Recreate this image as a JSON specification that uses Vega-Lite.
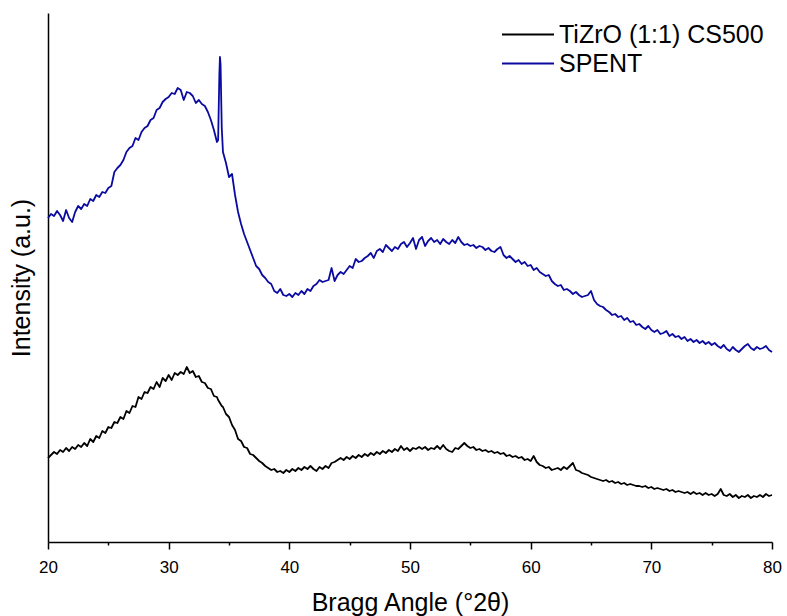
{
  "$schema": "https://vega.github.io/schema/vega-lite/v6.json",
  "width": 724,
  "height": 529,
  "autosize": {"type": "none"},
  "padding": {"left": 48, "top": 13, "right": 15, "bottom": 74},
  "background": "white",
  "config": {
    "view": {"stroke": null},
    "font": "Liberation Sans",
    "axis": {"domainColor": "black", "domainWidth": 1.5, "tickColor": "black", "tickWidth": 1.5, "grid": false, "labelColor": "black", "titleColor": "black", "titleFontWeight": "normal", "titleFont": "Liberation Sans", "labelFont": "Liberation Sans"}
  },
  "data": {"values": [
{"angle":20.00,"TiZrO (1:1) CS500":84,"SPENT":324},
{"angle":20.25,"TiZrO (1:1) CS500":87,"SPENT":328},
{"angle":20.50,"TiZrO (1:1) CS500":90,"SPENT":326},
{"angle":20.75,"TiZrO (1:1) CS500":88,"SPENT":331},
{"angle":21.00,"TiZrO (1:1) CS500":92,"SPENT":327},
{"angle":21.25,"TiZrO (1:1) CS500":90,"SPENT":321},
{"angle":21.50,"TiZrO (1:1) CS500":94,"SPENT":332},
{"angle":21.75,"TiZrO (1:1) CS500":91,"SPENT":324},
{"angle":22.00,"TiZrO (1:1) CS500":95,"SPENT":320},
{"angle":22.25,"TiZrO (1:1) CS500":93,"SPENT":330},
{"angle":22.50,"TiZrO (1:1) CS500":97,"SPENT":336},
{"angle":22.75,"TiZrO (1:1) CS500":95,"SPENT":333},
{"angle":23.00,"TiZrO (1:1) CS500":99,"SPENT":338},
{"angle":23.25,"TiZrO (1:1) CS500":96,"SPENT":336},
{"angle":23.50,"TiZrO (1:1) CS500":103,"SPENT":343},
{"angle":23.75,"TiZrO (1:1) CS500":100,"SPENT":341},
{"angle":24.00,"TiZrO (1:1) CS500":106,"SPENT":347},
{"angle":24.25,"TiZrO (1:1) CS500":104,"SPENT":345},
{"angle":24.50,"TiZrO (1:1) CS500":111,"SPENT":350},
{"angle":24.75,"TiZrO (1:1) CS500":109,"SPENT":349},
{"angle":25.00,"TiZrO (1:1) CS500":115,"SPENT":354},
{"angle":25.25,"TiZrO (1:1) CS500":114,"SPENT":356},
{"angle":25.50,"TiZrO (1:1) CS500":120,"SPENT":370},
{"angle":25.75,"TiZrO (1:1) CS500":119,"SPENT":374},
{"angle":26.00,"TiZrO (1:1) CS500":125,"SPENT":377},
{"angle":26.25,"TiZrO (1:1) CS500":123,"SPENT":382},
{"angle":26.50,"TiZrO (1:1) CS500":131,"SPENT":390},
{"angle":26.75,"TiZrO (1:1) CS500":129,"SPENT":394},
{"angle":27.00,"TiZrO (1:1) CS500":136,"SPENT":396},
{"angle":27.25,"TiZrO (1:1) CS500":135,"SPENT":404},
{"angle":27.50,"TiZrO (1:1) CS500":145,"SPENT":402},
{"angle":27.75,"TiZrO (1:1) CS500":143,"SPENT":410},
{"angle":28.00,"TiZrO (1:1) CS500":150,"SPENT":414},
{"angle":28.25,"TiZrO (1:1) CS500":149,"SPENT":416},
{"angle":28.50,"TiZrO (1:1) CS500":155,"SPENT":422},
{"angle":28.75,"TiZrO (1:1) CS500":153,"SPENT":424},
{"angle":29.00,"TiZrO (1:1) CS500":160,"SPENT":432},
{"angle":29.25,"TiZrO (1:1) CS500":155,"SPENT":434},
{"angle":29.50,"TiZrO (1:1) CS500":164,"SPENT":440},
{"angle":29.75,"TiZrO (1:1) CS500":161,"SPENT":443},
{"angle":30.00,"TiZrO (1:1) CS500":167,"SPENT":445},
{"angle":30.25,"TiZrO (1:1) CS500":162,"SPENT":449},
{"angle":30.50,"TiZrO (1:1) CS500":169,"SPENT":448},
{"angle":30.75,"TiZrO (1:1) CS500":167,"SPENT":454},
{"angle":31.00,"TiZrO (1:1) CS500":170,"SPENT":452},
{"angle":31.25,"TiZrO (1:1) CS500":168,"SPENT":442},
{"angle":31.50,"TiZrO (1:1) CS500":175,"SPENT":450},
{"angle":31.75,"TiZrO (1:1) CS500":169,"SPENT":449},
{"angle":32.00,"TiZrO (1:1) CS500":171,"SPENT":446},
{"angle":32.25,"TiZrO (1:1) CS500":165,"SPENT":439},
{"angle":32.50,"TiZrO (1:1) CS500":166,"SPENT":442},
{"angle":32.75,"TiZrO (1:1) CS500":160,"SPENT":438},
{"angle":33.00,"TiZrO (1:1) CS500":159,"SPENT":436},
{"angle":33.25,"TiZrO (1:1) CS500":154,"SPENT":430},
{"angle":33.50,"TiZrO (1:1) CS500":153,"SPENT":422},
{"angle":33.75,"TiZrO (1:1) CS500":146,"SPENT":412},
{"angle":34.00,"TiZrO (1:1) CS500":145,"SPENT":400},
{"angle":34.10,"TiZrO (1:1) CS500":142,"SPENT":402},
{"angle":34.20,"TiZrO (1:1) CS500":140,"SPENT":467},
{"angle":34.25,"TiZrO (1:1) CS500":139,"SPENT":485},
{"angle":34.30,"TiZrO (1:1) CS500":138,"SPENT":478},
{"angle":34.40,"TiZrO (1:1) CS500":136,"SPENT":414},
{"angle":34.50,"TiZrO (1:1) CS500":135,"SPENT":390},
{"angle":34.75,"TiZrO (1:1) CS500":128,"SPENT":379},
{"angle":35.00,"TiZrO (1:1) CS500":125,"SPENT":365},
{"angle":35.25,"TiZrO (1:1) CS500":117,"SPENT":368},
{"angle":35.50,"TiZrO (1:1) CS500":112,"SPENT":347},
{"angle":35.75,"TiZrO (1:1) CS500":103,"SPENT":330},
{"angle":36.00,"TiZrO (1:1) CS500":101,"SPENT":318},
{"angle":36.25,"TiZrO (1:1) CS500":95,"SPENT":308},
{"angle":36.50,"TiZrO (1:1) CS500":94,"SPENT":300},
{"angle":36.75,"TiZrO (1:1) CS500":88,"SPENT":292},
{"angle":37.00,"TiZrO (1:1) CS500":87,"SPENT":284},
{"angle":37.25,"TiZrO (1:1) CS500":84,"SPENT":276},
{"angle":37.50,"TiZrO (1:1) CS500":81,"SPENT":273},
{"angle":37.75,"TiZrO (1:1) CS500":79,"SPENT":267},
{"angle":38.00,"TiZrO (1:1) CS500":76,"SPENT":264},
{"angle":38.25,"TiZrO (1:1) CS500":74,"SPENT":260},
{"angle":38.50,"TiZrO (1:1) CS500":72,"SPENT":258},
{"angle":38.75,"TiZrO (1:1) CS500":73,"SPENT":251},
{"angle":39.00,"TiZrO (1:1) CS500":70,"SPENT":249},
{"angle":39.25,"TiZrO (1:1) CS500":71,"SPENT":253},
{"angle":39.50,"TiZrO (1:1) CS500":69,"SPENT":247},
{"angle":39.75,"TiZrO (1:1) CS500":72,"SPENT":246},
{"angle":40.00,"TiZrO (1:1) CS500":70,"SPENT":248},
{"angle":40.25,"TiZrO (1:1) CS500":73,"SPENT":245},
{"angle":40.50,"TiZrO (1:1) CS500":71,"SPENT":249},
{"angle":40.75,"TiZrO (1:1) CS500":74,"SPENT":247},
{"angle":41.00,"TiZrO (1:1) CS500":72,"SPENT":251},
{"angle":41.25,"TiZrO (1:1) CS500":75,"SPENT":248},
{"angle":41.50,"TiZrO (1:1) CS500":73,"SPENT":253},
{"angle":41.75,"TiZrO (1:1) CS500":76,"SPENT":251},
{"angle":42.00,"TiZrO (1:1) CS500":73,"SPENT":256},
{"angle":42.25,"TiZrO (1:1) CS500":71,"SPENT":258},
{"angle":42.50,"TiZrO (1:1) CS500":75,"SPENT":262},
{"angle":42.75,"TiZrO (1:1) CS500":73,"SPENT":260},
{"angle":43.00,"TiZrO (1:1) CS500":76,"SPENT":261},
{"angle":43.25,"TiZrO (1:1) CS500":74,"SPENT":262},
{"angle":43.50,"TiZrO (1:1) CS500":79,"SPENT":274},
{"angle":43.75,"TiZrO (1:1) CS500":80,"SPENT":261},
{"angle":44.00,"TiZrO (1:1) CS500":82,"SPENT":267},
{"angle":44.25,"TiZrO (1:1) CS500":84,"SPENT":270},
{"angle":44.50,"TiZrO (1:1) CS500":82,"SPENT":268},
{"angle":44.75,"TiZrO (1:1) CS500":85,"SPENT":272},
{"angle":45.00,"TiZrO (1:1) CS500":83,"SPENT":276},
{"angle":45.25,"TiZrO (1:1) CS500":86,"SPENT":274},
{"angle":45.50,"TiZrO (1:1) CS500":84,"SPENT":283},
{"angle":45.75,"TiZrO (1:1) CS500":87,"SPENT":280},
{"angle":46.00,"TiZrO (1:1) CS500":85,"SPENT":281},
{"angle":46.25,"TiZrO (1:1) CS500":88,"SPENT":284},
{"angle":46.50,"TiZrO (1:1) CS500":86,"SPENT":286},
{"angle":46.75,"TiZrO (1:1) CS500":89,"SPENT":289},
{"angle":47.00,"TiZrO (1:1) CS500":87,"SPENT":284},
{"angle":47.25,"TiZrO (1:1) CS500":90,"SPENT":291},
{"angle":47.50,"TiZrO (1:1) CS500":88,"SPENT":293},
{"angle":47.75,"TiZrO (1:1) CS500":91,"SPENT":290},
{"angle":48.00,"TiZrO (1:1) CS500":89,"SPENT":297},
{"angle":48.25,"TiZrO (1:1) CS500":92,"SPENT":294},
{"angle":48.50,"TiZrO (1:1) CS500":90,"SPENT":291},
{"angle":48.75,"TiZrO (1:1) CS500":93,"SPENT":295},
{"angle":49.00,"TiZrO (1:1) CS500":91,"SPENT":293},
{"angle":49.25,"TiZrO (1:1) CS500":96,"SPENT":298},
{"angle":49.50,"TiZrO (1:1) CS500":92,"SPENT":300},
{"angle":49.75,"TiZrO (1:1) CS500":94,"SPENT":295},
{"angle":50.00,"TiZrO (1:1) CS500":91,"SPENT":299},
{"angle":50.25,"TiZrO (1:1) CS500":94,"SPENT":304},
{"angle":50.50,"TiZrO (1:1) CS500":93,"SPENT":293},
{"angle":50.75,"TiZrO (1:1) CS500":95,"SPENT":302},
{"angle":51.00,"TiZrO (1:1) CS500":93,"SPENT":305},
{"angle":51.25,"TiZrO (1:1) CS500":95,"SPENT":296},
{"angle":51.50,"TiZrO (1:1) CS500":92,"SPENT":301},
{"angle":51.75,"TiZrO (1:1) CS500":94,"SPENT":304},
{"angle":52.00,"TiZrO (1:1) CS500":93,"SPENT":300},
{"angle":52.25,"TiZrO (1:1) CS500":96,"SPENT":302},
{"angle":52.50,"TiZrO (1:1) CS500":93,"SPENT":298},
{"angle":52.75,"TiZrO (1:1) CS500":97,"SPENT":303},
{"angle":53.00,"TiZrO (1:1) CS500":93,"SPENT":300},
{"angle":53.25,"TiZrO (1:1) CS500":91,"SPENT":298},
{"angle":53.50,"TiZrO (1:1) CS500":90,"SPENT":302},
{"angle":53.75,"TiZrO (1:1) CS500":94,"SPENT":299},
{"angle":54.00,"TiZrO (1:1) CS500":93,"SPENT":305},
{"angle":54.25,"TiZrO (1:1) CS500":96,"SPENT":300},
{"angle":54.50,"TiZrO (1:1) CS500":99,"SPENT":297},
{"angle":54.75,"TiZrO (1:1) CS500":96,"SPENT":298},
{"angle":55.00,"TiZrO (1:1) CS500":94,"SPENT":296},
{"angle":55.25,"TiZrO (1:1) CS500":95,"SPENT":297},
{"angle":55.50,"TiZrO (1:1) CS500":92,"SPENT":294},
{"angle":55.75,"TiZrO (1:1) CS500":93,"SPENT":296},
{"angle":56.00,"TiZrO (1:1) CS500":91,"SPENT":295},
{"angle":56.25,"TiZrO (1:1) CS500":92,"SPENT":292},
{"angle":56.50,"TiZrO (1:1) CS500":90,"SPENT":294},
{"angle":56.75,"TiZrO (1:1) CS500":91,"SPENT":291},
{"angle":57.00,"TiZrO (1:1) CS500":89,"SPENT":290},
{"angle":57.25,"TiZrO (1:1) CS500":90,"SPENT":293},
{"angle":57.50,"TiZrO (1:1) CS500":88,"SPENT":295},
{"angle":57.75,"TiZrO (1:1) CS500":89,"SPENT":287},
{"angle":58.00,"TiZrO (1:1) CS500":86,"SPENT":284},
{"angle":58.25,"TiZrO (1:1) CS500":87,"SPENT":286},
{"angle":58.50,"TiZrO (1:1) CS500":85,"SPENT":283},
{"angle":58.75,"TiZrO (1:1) CS500":86,"SPENT":280},
{"angle":59.00,"TiZrO (1:1) CS500":84,"SPENT":282},
{"angle":59.25,"TiZrO (1:1) CS500":85,"SPENT":278},
{"angle":59.50,"TiZrO (1:1) CS500":82,"SPENT":280},
{"angle":59.75,"TiZrO (1:1) CS500":83,"SPENT":276},
{"angle":60.00,"TiZrO (1:1) CS500":81,"SPENT":277},
{"angle":60.25,"TiZrO (1:1) CS500":86,"SPENT":272},
{"angle":60.50,"TiZrO (1:1) CS500":80,"SPENT":274},
{"angle":60.75,"TiZrO (1:1) CS500":77,"SPENT":270},
{"angle":61.00,"TiZrO (1:1) CS500":76,"SPENT":268},
{"angle":61.25,"TiZrO (1:1) CS500":74,"SPENT":266},
{"angle":61.50,"TiZrO (1:1) CS500":75,"SPENT":267},
{"angle":61.75,"TiZrO (1:1) CS500":72,"SPENT":261},
{"angle":62.00,"TiZrO (1:1) CS500":73,"SPENT":258},
{"angle":62.25,"TiZrO (1:1) CS500":74,"SPENT":256},
{"angle":62.50,"TiZrO (1:1) CS500":72,"SPENT":257},
{"angle":62.75,"TiZrO (1:1) CS500":75,"SPENT":252},
{"angle":63.00,"TiZrO (1:1) CS500":73,"SPENT":253},
{"angle":63.25,"TiZrO (1:1) CS500":76,"SPENT":251},
{"angle":63.50,"TiZrO (1:1) CS500":79,"SPENT":248},
{"angle":63.75,"TiZrO (1:1) CS500":72,"SPENT":250},
{"angle":64.00,"TiZrO (1:1) CS500":71,"SPENT":247},
{"angle":64.25,"TiZrO (1:1) CS500":69,"SPENT":245},
{"angle":64.50,"TiZrO (1:1) CS500":68,"SPENT":246},
{"angle":64.75,"TiZrO (1:1) CS500":67,"SPENT":247},
{"angle":65.00,"TiZrO (1:1) CS500":65,"SPENT":251},
{"angle":65.25,"TiZrO (1:1) CS500":64,"SPENT":242},
{"angle":65.50,"TiZrO (1:1) CS500":63,"SPENT":238},
{"angle":65.75,"TiZrO (1:1) CS500":62,"SPENT":236},
{"angle":66.00,"TiZrO (1:1) CS500":61,"SPENT":235},
{"angle":66.25,"TiZrO (1:1) CS500":62,"SPENT":232},
{"angle":66.50,"TiZrO (1:1) CS500":60,"SPENT":230},
{"angle":66.75,"TiZrO (1:1) CS500":61,"SPENT":227},
{"angle":67.00,"TiZrO (1:1) CS500":59,"SPENT":228},
{"angle":67.25,"TiZrO (1:1) CS500":60,"SPENT":225},
{"angle":67.50,"TiZrO (1:1) CS500":58,"SPENT":226},
{"angle":67.75,"TiZrO (1:1) CS500":59,"SPENT":222},
{"angle":68.00,"TiZrO (1:1) CS500":57,"SPENT":224},
{"angle":68.25,"TiZrO (1:1) CS500":58,"SPENT":220},
{"angle":68.50,"TiZrO (1:1) CS500":57,"SPENT":221},
{"angle":68.75,"TiZrO (1:1) CS500":56,"SPENT":217},
{"angle":69.00,"TiZrO (1:1) CS500":56,"SPENT":218},
{"angle":69.25,"TiZrO (1:1) CS500":55,"SPENT":215},
{"angle":69.50,"TiZrO (1:1) CS500":56,"SPENT":213},
{"angle":69.75,"TiZrO (1:1) CS500":54,"SPENT":216},
{"angle":70.00,"TiZrO (1:1) CS500":55,"SPENT":212},
{"angle":70.25,"TiZrO (1:1) CS500":53,"SPENT":210},
{"angle":70.50,"TiZrO (1:1) CS500":54,"SPENT":212},
{"angle":70.75,"TiZrO (1:1) CS500":53,"SPENT":208},
{"angle":71.00,"TiZrO (1:1) CS500":52,"SPENT":209},
{"angle":71.25,"TiZrO (1:1) CS500":53,"SPENT":211},
{"angle":71.50,"TiZrO (1:1) CS500":51,"SPENT":206},
{"angle":71.75,"TiZrO (1:1) CS500":52,"SPENT":208},
{"angle":72.00,"TiZrO (1:1) CS500":50,"SPENT":205},
{"angle":72.25,"TiZrO (1:1) CS500":51,"SPENT":206},
{"angle":72.50,"TiZrO (1:1) CS500":50,"SPENT":203},
{"angle":72.75,"TiZrO (1:1) CS500":49,"SPENT":205},
{"angle":73.00,"TiZrO (1:1) CS500":50,"SPENT":201},
{"angle":73.25,"TiZrO (1:1) CS500":48,"SPENT":203},
{"angle":73.50,"TiZrO (1:1) CS500":50,"SPENT":200},
{"angle":73.75,"TiZrO (1:1) CS500":48,"SPENT":202},
{"angle":74.00,"TiZrO (1:1) CS500":49,"SPENT":199},
{"angle":74.25,"TiZrO (1:1) CS500":47,"SPENT":201},
{"angle":74.50,"TiZrO (1:1) CS500":49,"SPENT":198},
{"angle":74.75,"TiZrO (1:1) CS500":47,"SPENT":200},
{"angle":75.00,"TiZrO (1:1) CS500":48,"SPENT":197},
{"angle":75.25,"TiZrO (1:1) CS500":46,"SPENT":199},
{"angle":75.50,"TiZrO (1:1) CS500":48,"SPENT":196},
{"angle":75.75,"TiZrO (1:1) CS500":53,"SPENT":194},
{"angle":76.00,"TiZrO (1:1) CS500":47,"SPENT":197},
{"angle":76.25,"TiZrO (1:1) CS500":46,"SPENT":193},
{"angle":76.50,"TiZrO (1:1) CS500":48,"SPENT":191},
{"angle":76.75,"TiZrO (1:1) CS500":45,"SPENT":195},
{"angle":77.00,"TiZrO (1:1) CS500":47,"SPENT":192},
{"angle":77.25,"TiZrO (1:1) CS500":44,"SPENT":190},
{"angle":77.50,"TiZrO (1:1) CS500":46,"SPENT":193},
{"angle":77.75,"TiZrO (1:1) CS500":45,"SPENT":196},
{"angle":78.00,"TiZrO (1:1) CS500":47,"SPENT":198},
{"angle":78.25,"TiZrO (1:1) CS500":44,"SPENT":194},
{"angle":78.50,"TiZrO (1:1) CS500":46,"SPENT":192},
{"angle":78.75,"TiZrO (1:1) CS500":45,"SPENT":195},
{"angle":79.00,"TiZrO (1:1) CS500":47,"SPENT":193},
{"angle":79.25,"TiZrO (1:1) CS500":45,"SPENT":194},
{"angle":79.50,"TiZrO (1:1) CS500":48,"SPENT":196},
{"angle":79.75,"TiZrO (1:1) CS500":46,"SPENT":192},
{"angle":80.00,"TiZrO (1:1) CS500":47,"SPENT":190}
  ]},
  "transform": [
    {"fold": ["TiZrO (1:1) CS500", "SPENT"], "as": ["sample", "intensity"]}
  ],
  "mark": {"type": "line", "strokeWidth": 1.8, "strokeJoin": "round"},
  "encoding": {
    "x": {
      "field": "angle", "type": "quantitative",
      "scale": {"domain": [20, 80], "nice": false, "zero": false},
      "axis": {
        "title": "Bragg Angle (°2θ)",
        "values": [20, 25, 30, 35, 40, 45, 50, 55, 60, 65, 70, 75, 80],
        "labelExpr": "datum.value % 10 === 0 ? datum.label : ''",
        "tickSize": {"condition": {"test": "datum.value % 10 === 0", "value": 7}, "value": 3},
        "labelFontSize": 17, "labelPadding": 10, "labelFlush": false, "labelOverlap": false,
        "titleFontSize": 25, "titlePadding": 15
      }
    },
    "y": {
      "field": "intensity", "type": "quantitative",
      "scale": {"domain": [0, 529], "nice": false, "zero": false},
      "axis": {
        "title": "Intensity (a.u.)", "labels": false, "ticks": false,
        "titleFontSize": 25, "titlePadding": 14
      }
    },
    "color": {
      "field": "sample", "type": "nominal",
      "scale": {"domain": ["TiZrO (1:1) CS500", "SPENT"], "range": ["#000000", "#0a0aa0"]},
      "legend": {
        "title": null, "orient": "none", "legendX": 453, "legendY": 7,
        "symbolType": "stroke", "symbolSize": 2704, "symbolStrokeWidth": 2,
        "labelFontSize": 25, "labelColor": "black", "labelOffset": 4, "labelLimit": 0,
        "clipHeight": 29, "rowPadding": 0
      }
    },
    "order": {"field": "angle", "type": "quantitative"}
  }
}
